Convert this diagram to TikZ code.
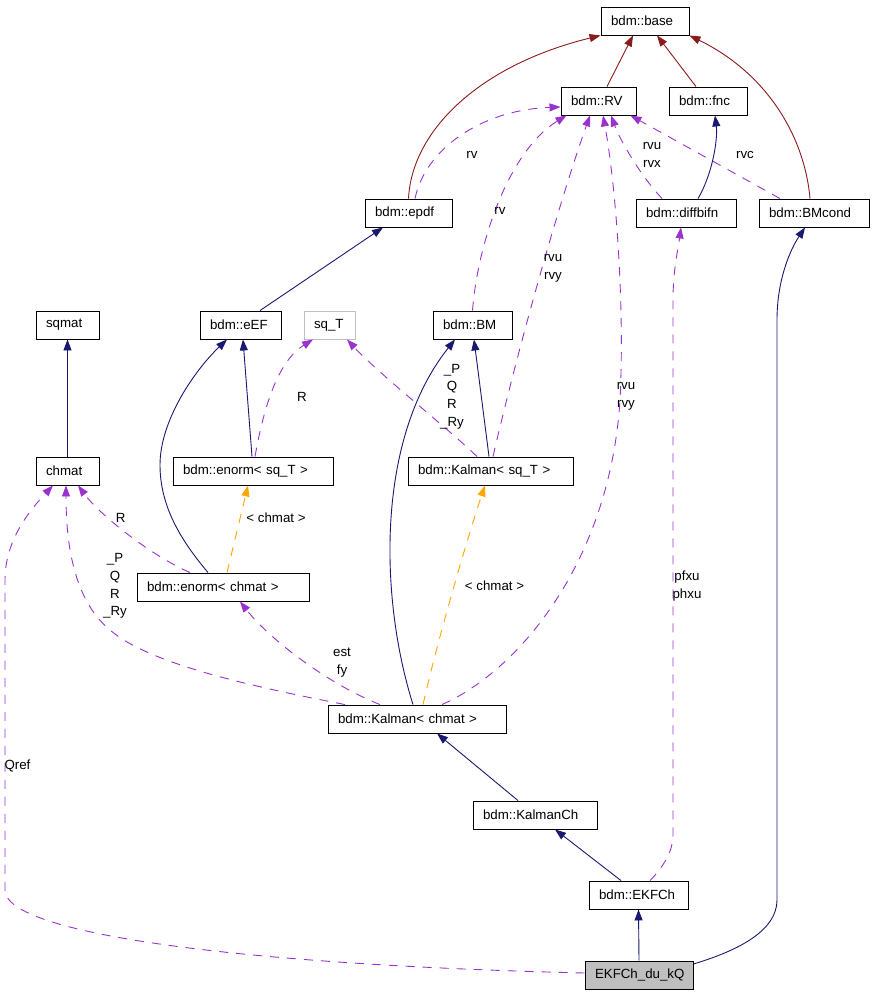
\documentclass[tikz,border=0pt]{standalone}
\usepackage{fontspec}
\setmainfont{Liberation Sans}
\usetikzlibrary{arrows.meta}
\definecolor{inhblue}{HTML}{191970}
\definecolor{baseRed}{HTML}{8B1A1A}
\definecolor{usePurple}{HTML}{9A32CD}
\definecolor{tmplOrange}{HTML}{FFA500}
\definecolor{nodeGray}{HTML}{BFBFBF}
\begin{document}
\begin{tikzpicture}[x=1pt,y=-1pt,
  box/.style={draw=black,line width=0.9pt,minimum height=28pt,inner xsep=10pt,inner ysep=0pt,align=left,
    font=\fontsize{13.3}{17.7}\selectfont,fill=white},
  lbl/.style={inner sep=0pt,align=center,font=\fontsize{13.3}{17.7}\selectfont},
  tipped/.style={-{Triangle[length=11pt,width=8pt]},line width=0.9pt},
  inh/.style={tipped,draw=inhblue},
  toBase/.style={tipped,draw=baseRed},
  use/.style={tipped,draw=usePurple,dash pattern=on 9pt off 8pt},
  tmpl/.style={tipped,draw=tmplOrange,dash pattern=on 9pt off 8pt}]
\useasboundingbox (0,0) rectangle (873,995);
% nodes
\node[box,text width=68pt] (base) at (645,21) {bdm::base};
\node[box,text width=55pt] (RV) at (598.5,101) {bdm::RV};
\node[box,text width=58pt] (fnc) at (708,101) {bdm::fnc};
\node[box,text width=67pt] (epdf) at (408.5,213) {bdm::epdf};
\node[box,text width=80pt] (diffbifn) at (686,213) {bdm::diffbifn};
\node[box,text width=90pt] (BMcond) at (814,213) {bdm::BMcond};
\node[box,text width=43pt] (sqmat) at (67.5,325) {sqmat};
\node[box,text width=61pt] (eEF) at (240.5,325) {bdm::eEF};
\node[box,text width=31pt,draw=nodeGray] (sqT) at (329.5,325) {sq\_T};
\node[box,text width=59pt] (BM) at (472.5,325) {bdm::BM};
\node[box,text width=43pt] (chmat) at (67.5,471) {chmat};
\node[box,text width=140pt] (enormsq) at (253,471) {bdm::enorm< sq\_T >};
\node[box,text width=145pt] (kalsq) at (490.5,471) {bdm::Kalman< sq\_T >};
\node[box,text width=152pt] (enormch) at (223,587) {bdm::enorm< chmat >};
\node[box,text width=158pt] (kalch) at (417,719) {bdm::Kalman< chmat >};
\node[box,text width=104pt] (KalmanCh) at (535,815) {bdm::KalmanCh};
\node[box,text width=79pt] (EKFCh) at (638.5,895) {bdm::EKFCh};
\node[box,text width=88pt,fill=nodeGray] (duKQ) at (639,975) {EKFCh\_du\_kQ};
% edges to base
\draw[toBase] ([xshift=8.5pt]RV.north) -- ([xshift=-12pt]base.south);
\draw[toBase] ([xshift=-12pt]fnc.north) -- ([xshift=12pt]base.south);
\draw[toBase] (epdf.north) .. controls (412,130) and (480,65) .. (base.south west);
\draw[toBase] ([xshift=-4pt]BMcond.north) .. controls (805,140) and (770,75) .. (base.south east);
% usage edges to RV
\draw[use] ([xshift=6.5pt]epdf.north) .. controls (425,150) and (480,110) .. ([yshift=-6pt]RV.west);
\draw[use] (BM.north) .. controls (478,240) and (510,150) .. ([xshift=-32pt]RV.south);
\draw[use] ([xshift=2.5pt]kalsq.north) .. controls (520,340) and (560,200) .. ([xshift=-8.5pt]RV.south);
\draw[use] ([xshift=25pt]kalch.north) .. controls (520,670) and (610,560) .. (620,400) .. controls (625,300) and (615,180) .. ([xshift=4.5pt]RV.south);
\draw[use] ([xshift=-24pt]diffbifn.north) .. controls (640,175) and (620,140) .. ([xshift=12.5pt]RV.south);
\draw[use] ([xshift=-34pt]BMcond.north) -- ([xshift=-6pt]RV.south east);
% inheritance
\draw[inh] ([xshift=12pt]diffbifn.north) .. controls (712,175) and (718,140) .. ([xshift=7pt]fnc.south);
\draw[inh] ([xshift=19.5pt]eEF.north) -- ([xshift=-25.5pt]epdf.south);
\draw[inh] (chmat.north) -- (sqmat.south);
\draw[inh] ([xshift=-1pt]enormsq.north) -- ([xshift=2.5pt]eEF.south);
\draw[inh] ([xshift=-15pt]enormch.north) .. controls (185,545) and (160,510) .. (160,465) .. controls (160,420) and (195,370) .. ([xshift=-13.5pt]eEF.south);
\draw[inh] ([xshift=-1.5pt]kalsq.north) -- ([xshift=1.5pt]BM.south);
\draw[inh] ([xshift=-4pt]kalch.north) .. controls (380,600) and (375,440) .. ([xshift=-17.5pt]BM.south);
\draw[inh] ([xshift=-17pt]KalmanCh.north) -- ([xshift=20pt]kalch.south);
\draw[inh] ([xshift=-17.5pt]EKFCh.north) -- ([xshift=20pt]KalmanCh.south);
\draw[inh] (duKQ.north) -- (EKFCh.south);
\draw[inh] ([yshift=11pt]duKQ.east) .. controls (740,950) and (777,930) .. (777,900) -- (777,320) .. controls (777,280) and (790,250) .. ([xshift=-9pt]BMcond.south);
% usage edges
\draw[use] ([xshift=2pt]enormsq.north) .. controls (265,400) and (280,360) .. ([xshift=-16.5pt]sqT.south);
\draw[use] ([xshift=-13.5pt]kalsq.north) .. controls (450,430) and (380,375) .. ([xshift=17.5pt]sqT.south);
\draw[use] ([xshift=-33pt]enormch.north) .. controls (150,555) and (100,515) .. ([xshift=10.5pt]chmat.south);
\draw[use] ([xshift=-72pt]kalch.north) .. controls (260,688) and (150,665) .. (110,630) .. controls (80,605) and (66,560) .. ([xshift=-1.5pt]chmat.south);
\draw[use] ([xshift=-37pt]kalch.north) .. controls (330,685) and (270,640) .. ([xshift=17pt]enormch.south);
\draw[use] ([yshift=2pt]duKQ.west) .. controls (250,965) and (5,935) .. (5,890) -- (5,580) .. controls (5,540) and (30,510) .. ([xshift=-14.5pt]chmat.south);
\draw[use] ([xshift=11.5pt]EKFCh.north) .. controls (665,865) and (673,850) .. (673,835) -- (673,300) .. controls (673,270) and (678,250) .. ([xshift=-5pt]diffbifn.south);
% template edges
\draw[tmpl] ([xshift=4pt]enormch.north) -- ([xshift=-5pt]enormsq.south);
\draw[tmpl] ([xshift=6pt]kalch.north) .. controls (440,630) and (470,530) .. ([xshift=-5.5pt]kalsq.south);
% labels
\node[lbl] (lrvA) at (472,155) {rv};
\node[lbl] (lrvB) at (500,211) {rv};
\node[lbl] (lrvuyA) at (553,268) {rvu\\rvy};
\node[lbl] (lrvuyB) at (626,396.5) {rvu\\rvy};
\node[lbl] (lrvux) at (652,155) {rvu\\rvx};
\node[lbl] (lrvc) at (745,155) {rvc};
\node[lbl] (lRA) at (302,397) {R};
\node[lbl] (lPQRA) at (452,396.5) {\_P\\Q\\R\\\_Ry};
\node[lbl] (lchA) at (276,518) {< chmat >};
\node[lbl] (lchB) at (494.5,586) {< chmat >};
\node[lbl] (lRB) at (120.7,517.7) {R};
\node[lbl] (lPQRB) at (115,586) {\_P\\Q\\R\\\_Ry};
\node[lbl] (lest) at (342,662.5) {est\\fy};
\node[lbl] (lQref) at (17.5,766) {Qref};
\node[lbl] (lpf) at (687,586) {pfxu\\phxu};
\end{tikzpicture}
\end{document}
